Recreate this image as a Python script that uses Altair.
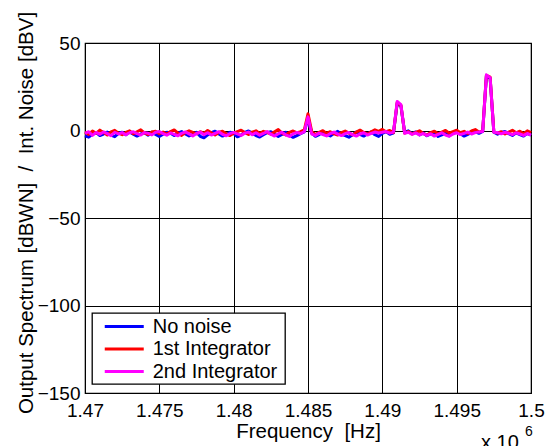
import altair as alt
import numpy as np
import pandas as pd

# Frequency grid in units of 1e6 Hz (1.47 .. 1.5 MHz, 121 bins)
freq = np.round(np.linspace(1.47, 1.5, 121), 5)

series_names = ["No noise", "1st Integrator", "2nd Integrator"]
series_colors = ["#0000FF", "#FF0000", "#FF00FF"]

no_noise = [
    -3.0, -3.8, -2.2, -1.2, -2.9, -2.0, -0.9, -2.6, -3.5, -1.6,
    -1.0, -2.4, -0.8, -2.1, -3.2, -2.0, -1.3, -2.7, -0.9, -2.2,
    -3.4, -2.1, -1.0, -1.6, -2.9, -1.5, -0.6, -2.0, -3.1, -2.2,
    -1.0, -3.3, -4.2, -2.5, -1.2, -0.4, -2.0, -3.2, -2.3, -1.0,
    -1.6, -3.6, -2.6, -1.1, -0.3, -1.5, -2.9, -3.7, -2.4, -1.2,
    -0.7, -2.2, -3.4, -2.3, -1.0, -2.7, -3.9, -2.9, -1.8, -0.8,
    7.0,
    -1.5, -3.3, -2.3, -1.1, -2.2, -3.1, -1.6, -0.5, -2.1,
    -2.9, -3.8, -2.4, -0.9, -2.2, -3.2, -1.9, -0.8, -2.4, -3.4,
    -1.6, -0.6, -2.2, -1.3,
    15.5, 14.0,
    -1.0, -0.2, -1.8, -0.8, -2.5, -1.4, -3.0, -2.0, -0.9, -3.4, -2.5, -1.4, -3.1, -1.3,
    -0.6, -1.9, -3.2, -2.2, -1.0, -0.5, -1.6,
    -0.5, 31.0, 30.0, -1.0,
    -2.1, -1.1, -0.6, -1.8, -2.8, -1.3, -2.3, -3.2, -1.6, -2.7,
]

first_integrator = [
    -0.9, -2.2, -0.3, -1.6, 0.2, -1.2, -2.6, -0.8, 0.1, -1.5,
    -2.4, -1.1, -0.2, -1.9, -0.7, 0.4, -1.4, -2.3, -0.9, -0.4,
    -1.8, -0.9, -2.1, -0.6, 0.3, -1.5, -2.8, -1.2, -0.2, -1.1,
    -1.9, -0.7, -1.7, 0.0, -1.3, -2.5, -1.1, -0.4, -1.8, -2.9,
    -1.5, -0.6, 0.2, -1.2, -2.3, -0.9, -0.2, -1.7, -0.5, -1.1,
    -2.1, -0.8, 0.5, -1.5, -2.5, -1.1, -0.3, -1.4, -0.7, 0.3,
    9.5,
    -0.6, -2.3, -1.1, -0.1, -1.7, -0.7, -1.9, -2.6, -1.2,
    -0.3, -1.5, -2.5, -0.9, 0.2, -1.1, -2.1, -0.7, 0.4, -0.5,
    0.6, -0.7, 0.0, -1.2,
    16.0, 14.5,
    -1.5, -0.6, -2.0, -1.1, -0.2, -1.7, -2.6, -1.2, -0.4, -1.9, -0.9, 0.0, -1.5, -0.6,
    0.2, -1.3, -0.5, -1.7, -0.3, 0.5, -0.9,
    -0.3, 31.5, 30.5, -0.8,
    -1.5, -0.7, -2.0, -0.9, 0.1, -1.3, -0.4, -1.8, -0.2, -1.2,
]

second_integrator = [
    -1.6, -0.7, -2.8, -1.1, -2.2, -0.8, -1.8, -3.0, -1.0, -2.0,
    -1.2, -2.4, -1.3, -0.7, -1.8, -2.6, -1.2, -1.6, -2.5, -1.0,
    -0.6, -1.8, -2.7, -1.4, -2.2, -3.0, -1.6, -0.8, -1.9, -3.1,
    -1.7, -0.9, -2.4, -1.3, -2.6, -1.6, -0.7, -2.2, -3.0, -1.8,
    -1.1, -1.9, -2.8, -1.5, -0.9, -2.4, -1.3, -2.7, -1.7, -0.6,
    -2.1, -3.2, -1.8, -1.0, -2.5, -3.4, -1.9, -1.1, -1.7, -0.6,
    7.8,
    -2.0, -2.8, -1.5, -2.3, -3.1, -1.7, -0.9, -2.1, -2.9,
    -1.8, -1.1, -2.4, -3.2, -2.0, -1.3, -2.6, -1.7, -0.9, -1.4,
    -1.0, -0.6, -1.5, -0.9,
    16.6, 14.8,
    -1.6, -1.0, -2.2, -1.4, -2.5, -1.7, -2.8, -1.9, -3.2, -2.2, -1.3, -2.6, -3.3, -2.0,
    -1.3, -2.3, -1.6, -0.9, -2.0, -1.2, -0.8,
    -0.6, 31.8, 30.2, -1.0,
    -1.2, -1.9, -1.0, -1.6, -2.4, -1.3, -2.0, -2.8, -1.7, -2.6,
]

x_ticks = [1.47, 1.475, 1.48, 1.485, 1.49, 1.495, 1.5]
y_ticks = [-150, -100, -50, 0, 50]

frames = []
for name, vals in zip(series_names, [no_noise, first_integrator, second_integrator]):
    frames.append(pd.DataFrame({"freq": freq, "level": vals, "series": name}))
df = pd.concat(frames, ignore_index=True)

FONT = "Liberation Sans"
NB = "\u00a0"

x_enc = alt.X(
    "freq:Q",
    scale=alt.Scale(domain=[1.47, 1.5], nice=False, zero=False),
    axis=alt.Axis(
        values=x_ticks, format="~g", title=f"Frequency{NB}{NB}[Hz]",
        labelFontSize=19, titleFontSize=20.5, labelPadding=8.7, tickSize=0,
        titleBaseline="alphabetic", titleY=44.7, titleFontWeight="normal",
        grid=True, gridColor="#000000", gridWidth=1, gridOpacity=1,
        domain=False, labelColor="#000000", titleColor="#000000",
        labelFlush=False,
    ),
)
y_enc = alt.Y(
    "level:Q",
    scale=alt.Scale(domain=[-150, 50], nice=False, zero=False),
    axis=alt.Axis(
        values=y_ticks,
        title=f"Output Spectrum [dBWN]{NB}{NB}/{NB}{NB}Int. Noise [dBV]",
        labelFontSize=19, titleFontSize=20.5, labelPadding=5, tickSize=0,
        titleBaseline="alphabetic", titleX=-53, titleY=169.5, titleAngle=270,
        titleFontWeight="normal",
        grid=True, gridColor="#000000", gridWidth=1, gridOpacity=1,
        domain=False, labelColor="#000000", titleColor="#000000",
        labelFlush=False,
    ),
)
# legend labels carry a trailing no-break space (kept by a zero-width char)
# so the frame leaves some room after the longest label
color_enc = alt.Color(
    "series:N",
    scale=alt.Scale(domain=series_names, range=series_colors),
    legend=alt.Legend(
        title=None, orient="none", legendX=7, legendY=270,
        symbolType="M-2,0H2", symbolSize=380.25, symbolStrokeWidth=3,
        symbolOffset=18.75, labelOffset=17.0, labelFontSize=20, labelFont=FONT,
        labelColor="#000000", padding=2, rowPadding=0.5,
        strokeColor="#000000", fillColor="#FFFFFF",
        labelExpr="datum.label + '\u00a0\u200b'",
    ),
)

layers = []
for name in series_names:
    layers.append(
        alt.Chart(df)
        .transform_filter(alt.datum.series == name)
        .mark_line(strokeWidth=3, strokeJoin="round")
        .encode(x=x_enc, y=y_enc, color=color_enc)
    )

exp_base = alt.Chart(pd.DataFrame({"t": ["x 10"]})).mark_text(
    align="left", baseline="alphabetic", fontSize=20, font=FONT, color="#000000"
).encode(text="t:N", x=alt.value(396), y=alt.value(405.5))
exp_power = alt.Chart(pd.DataFrame({"t": ["6"]})).mark_text(
    align="left", baseline="alphabetic", fontSize=14, font=FONT, color="#000000"
).encode(text="t:N", x=alt.value(440), y=alt.value(393))

chart = (
    alt.layer(*layers, exp_base, exp_power)
    .properties(
        width=446, height=350,
        padding={"left": 85, "top": 43, "right": 17, "bottom": 53},
        autosize=alt.AutoSizeParams(type="none"),
        background="#FFFFFF",
    )
    .configure_view(stroke="#000000", strokeWidth=1.2)
    .configure_axis(labelFont=FONT, titleFont=FONT)
    .configure_legend(strokeWidth=1.3)
)

chart.save("out.html", embed_options={"renderer": "svg", "actions": False})
